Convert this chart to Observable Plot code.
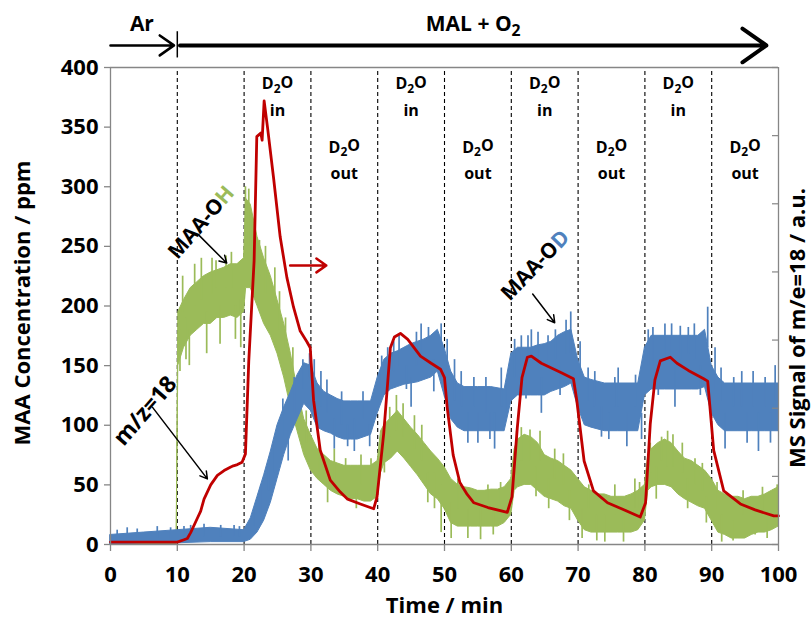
<!DOCTYPE html>
<html>
<head>
<meta charset="utf-8">
<script src="https://cdn.jsdelivr.net/npm/d3@7"></script>
<script src="https://cdn.jsdelivr.net/npm/@observablehq/plot@0.6"></script>
<style>
  html, body { margin: 0; padding: 0; background: #fff; }
  #chart svg { display: block; }
</style>
</head>
<body>
<div id="chart"></div>
<script>
// ---------- DATA ----------
const xTicks = [0, 10, 20, 30, 40, 50, 60, 70, 80, 90, 100];
const yTicks = [0, 50, 100, 150, 200, 250, 300, 350, 400];
const msTicks = [0, 1, 2, 3, 4, 5, 6, 7];   // unlabelled right axis (a.u.)
const msMax = 7;
const switchTimes = [10, 20, 30, 40, 50, 60, 70, 80, 90];
const phaseMid = [25, 35, 45, 55, 65, 75, 85, 95];
const phaseName = ["in", "out", "in", "out", "in", "out", "in", "out"];

// MAA-OH (green): noise envelope
const ohT  = [0, 9.9, 10.15, 11, 12, 13, 14, 15, 16, 17, 18, 19, 20, 20.3, 21, 22, 23, 24, 25, 26, 27, 28, 29, 30, 31, 32, 33, 34, 35, 36, 37, 38, 39, 40, 40.5, 41, 42, 43, 44, 45, 46, 47, 48, 49, 50, 51, 52, 53, 54, 55, 56, 57, 58, 59, 60, 60.5, 61, 62, 63, 64, 65, 66, 67, 68, 69, 70, 71, 72, 73, 74, 75, 76, 77, 78, 79, 80, 80.5, 81, 82, 83, 84, 85, 86, 87, 88, 89, 90, 91, 92, 93, 94, 95, 96, 97, 98, 99, 100];
const ohLo = [0, 0, 150, 165, 175, 180, 185, 185, 190, 190, 192, 190, 195, 215, 215, 200, 185, 175, 160, 140, 115, 95, 75, 62, 55, 50, 45, 42, 40, 38, 38, 36, 36, 40, 60, 68, 72, 78, 72, 65, 58, 50, 42, 38, 30, 18, 15, 15, 15, 15, 15, 15, 15, 18, 25, 45, 48, 50, 50, 45, 40, 38, 36, 32, 30, 20, 12, 10, 10, 10, 10, 10, 10, 10, 12, 20, 45, 48, 50, 50, 48, 42, 38, 35, 32, 30, 20, 10, 8, 5, 5, 5, 8, 10, 10, 12, 15];
const ohHi = [2, 2, 195, 205, 215, 220, 225, 228, 230, 232, 235, 235, 240, 290, 285, 258, 240, 225, 205, 185, 160, 130, 105, 92, 80, 75, 70, 68, 66, 66, 66, 66, 66, 70, 95, 100, 106, 112, 105, 98, 92, 85, 78, 72, 65, 55, 50, 48, 47, 45, 45, 46, 46, 48, 55, 80, 88, 92, 90, 85, 75, 72, 70, 66, 62, 55, 48, 45, 42, 42, 40, 40, 40, 42, 45, 50, 75, 80, 85, 88, 85, 78, 72, 70, 66, 62, 55, 45, 42, 40, 40, 38, 40, 40, 42, 45, 48];
// isolated spikes of MAA-OH: time, from, to
const ohSpikeT    = [10.4, 10.8, 11.3, 11.8, 12.6, 13.6, 14.4, 15.2, 15.8, 16.4, 17.3, 18.1, 18.7, 19.5, 20.2, 20.7, 21.3, 22.3, 23.2, 24.6, 25.3, 26.2, 27.3, 28.5, 29.3, 31.2, 32.5, 33.5, 35.2, 36.8, 37.5, 39, 41, 41.8, 42.8, 43.8, 45.5, 46.6, 47.5, 48.5, 49.5, 51, 52, 53.5, 55.4, 56.5, 57.3, 58.4, 60.8, 61.5, 62.8, 63.7, 64.3, 65.6, 66.5, 67.8, 68.7, 70.6, 71.6, 72.8, 74, 75.5, 76.8, 78.5, 79.2, 80.8, 81.7, 82.5, 83.4, 84.2, 85.6, 86.4, 87.5, 88.6, 89.2, 90.8, 91.5, 93.2, 94.7, 96.5, 97.6, 98.3, 99.8];
const ohSpikeFrom = [180, 195, 190, 180, 200, 205, 195, 210, 215, 200, 215, 215, 200, 205, 250, 250, 240, 225, 210, 200, 180, 165, 135, 110, 85, 60, 55, 55, 50, 45, 50, 45, 80, 90, 95, 90, 80, 70, 60, 60, 50, 35, 30, 30, 30, 30, 30, 30, 60, 70, 70, 65, 70, 55, 55, 50, 45, 30, 30, 25, 25, 25, 25, 30, 30, 60, 65, 70, 65, 65, 60, 55, 50, 45, 40, 30, 25, 20, 25, 25, 25, 25, 30];
const ohSpikeTo   = [145, 225, 155, 150, 235, 240, 160, 240, 238, 168, 242, 245, 172, 165, 300, 298, 268, 255, 250, 232, 212, 190, 165, 140, 112, 88, 35, 80, 72, 30, 75, 72, 60, 115, 125, 118, 108, 100, 35, 30, 10, 5, 55, 5, 4, 50, 8, 52, 95, 98, 96, 40, 95, 30, 80, 76, 20, 5, 50, 3, 2, 50, 2, 55, 52, 85, 38, 90, 95, 92, 85, 30, 72, 68, 18, 52, 2, 3, 45, 8, 48, 5, 50];

// MAA-OD (blue): noise envelope
const odT  = [0, 5, 10, 15, 20, 21, 22, 23, 24, 25, 26, 27, 28, 29, 30, 31, 32, 33, 34, 35, 36, 37, 38, 39, 40, 41, 42, 43, 44, 45, 46, 47, 48, 49, 50, 51, 52, 53, 55, 57, 59, 60, 61, 62, 63, 64, 65, 66, 67, 68, 69, 70, 71, 72, 74, 76, 78, 79, 80, 81, 83, 85, 87, 88, 89, 90, 91, 92, 94, 96, 98, 100];
const odLo = [0, 1, 1, 2, 2, 4, 10, 20, 35, 55, 75, 92, 105, 118, 112, 98, 95, 93, 90, 88, 88, 88, 90, 92, 110, 125, 130, 132, 134, 135, 136, 138, 140, 145, 125, 105, 98, 95, 95, 95, 95, 120, 125, 125, 125, 125, 125, 128, 130, 132, 135, 115, 100, 98, 95, 95, 95, 95, 125, 130, 130, 130, 130, 130, 132, 110, 100, 95, 95, 95, 95, 95];
const odHi = [8, 10, 12, 14, 12, 22, 40, 58, 78, 100, 115, 128, 142, 152, 150, 135, 128, 125, 122, 120, 120, 120, 120, 120, 140, 155, 160, 162, 165, 168, 170, 172, 175, 180, 165, 145, 135, 132, 132, 132, 130, 160, 165, 165, 165, 167, 168, 170, 175, 178, 180, 155, 140, 138, 135, 135, 135, 135, 165, 175, 175, 175, 175, 175, 180, 150, 140, 135, 135, 135, 135, 135];
const odSpikeT    = [1, 2.5, 4, 7, 9, 11, 12, 14, 16.5, 18.5, 19.3, 21.5, 22.5, 23.7, 24.5, 25.8, 26.6, 27.5, 28.8, 29.8, 30.5, 31.5, 32.4, 33.5, 34.6, 35.5, 36.5, 37.8, 38.8, 40.6, 41.5, 42.4, 43.2, 44.3, 45, 45.8, 46.5, 47.6, 48.4, 49.5, 50.4, 51.5, 52.5, 53.5, 54.4, 55, 56.2, 56.8, 57.5, 58.5, 59.2, 60.5, 61.5, 62.2, 62.5, 63, 64, 64.5, 65.5, 66.6, 67.3, 68.2, 68.9, 70.3, 71.5, 72.5, 73.5, 74.6, 75.5, 76, 77.3, 78.6, 79.5, 80.5, 81.2, 82, 83, 84, 84.5, 85.3, 86.5, 87.4, 88.3, 89.4, 90.5, 91.4, 92, 93.3, 94.5, 95.3, 96.2, 97, 98, 98.8, 99.5];
const odSpikeFrom = [4, 5, 5, 5, 5, 6, 6, 6, 6, 6, 6, 15, 25, 45, 60, 90, 95, 110, 130, 140, 120, 115, 110, 105, 100, 100, 105, 105, 100, 130, 140, 145, 150, 150, 140, 150, 160, 160, 155, 165, 140, 120, 115, 110, 115, 110, 110, 110, 110, 115, 110, 140, 145, 145, 150, 150, 150, 140, 150, 155, 150, 160, 160, 140, 120, 115, 115, 110, 115, 115, 110, 115, 110, 150, 150, 150, 155, 155, 150, 155, 160, 155, 150, 165, 130, 120, 110, 115, 115, 110, 115, 110, 115, 110, 120];
const odSpikeTo   = [12, 14, 13, 15, 14, 15, 16, 17, 16, 16, 15, 30, 50, 70, 85, 122, 70, 140, 155, 160, 155, 145, 138, 80, 128, 82, 78, 128, 82, 158, 165, 170, 175, 130, 115, 178, 185, 182, 128, 185, 172, 155, 145, 85, 140, 85, 140, 88, 80, 148, 135, 172, 175, 122, 175, 180, 178, 110, 175, 180, 125, 188, 195, 170, 148, 145, 90, 88, 140, 148, 82, 142, 88, 180, 182, 125, 185, 185, 115, 183, 182, 185, 125, 199, 165, 148, 80, 140, 145, 85, 145, 78, 140, 85, 150];

// m/z=18 (red), expressed on the left-axis scale
const h2oT = [0, 5, 10, 11, 11.5, 12, 13, 13.5, 14, 15, 16, 17, 18, 18.4, 19, 19.7, 20.2, 20.7, 21.5, 21.9, 22.5, 22.7, 23.0, 23.5, 24.4, 25.4, 26.4, 27.4, 28.4, 29.4, 29.9, 30.4, 31.4, 32.9, 34.4, 35.5, 37.4, 39.4, 39.9, 40.9, 41.9, 42.5, 43.4, 44.5, 46.4, 48, 49.4, 50.0, 50.4, 51.3, 52.3, 53.4, 54.4, 56.5, 59.4, 60.1, 60.9, 61.6, 62.4, 63.0, 64.5, 66, 67.5, 69.3, 69.8, 70.9, 72.3, 74.4, 76.5, 79.3, 80.1, 80.8, 81.5, 82.3, 83.8, 84.8, 86.5, 88.8, 89.4, 90.3, 91.8, 94.3, 96.5, 99.3, 100];
const h2oV = [2, 2, 2, 4, 5, 10, 22, 28, 38, 50, 58, 62, 65, 66, 67, 69, 76, 154, 238, 342, 345, 339, 372, 350, 308, 258, 224, 199, 179, 170, 165, 121, 79, 54, 44, 38, 34, 30, 40, 93, 165, 174, 177, 172, 158, 152, 147, 140, 115, 75, 52, 42, 35, 31, 27, 40, 98, 140, 157, 158, 152, 148, 144, 139, 121, 70, 45, 35, 30, 23, 35, 101, 138, 154, 157, 152, 146, 139, 137, 79, 45, 34, 29, 24, 24];

// ---------- BUILD ----------
const green = "#9BBB59", blue = "#4F81BD", red = "#C00000", axisGray = "#868686";
const oh = ohT.map((t, i) => ({t, lo: ohLo[i], hi: ohHi[i]}));
const od = odT.map((t, i) => ({t, lo: odLo[i], hi: odHi[i]}));
const ohSp = ohSpikeT.map((t, i) => ({t, a: ohSpikeFrom[i], b: ohSpikeTo[i]}));
const odSp = odSpikeT.map((t, i) => ({t, a: odSpikeFrom[i], b: odSpikeTo[i]}));
const h2o = h2oT.map((t, i) => ({t, v: h2oV[i]}));
const phases = phaseMid.map((t, i) => ({t, name: phaseName[i]}));
const msToY = v => v * 400 / msMax;
const pxPerMin = (812 - 110 - 34) / 100;

const font = "'Open Sans', 'DejaVu Sans', sans-serif";

const chart = Plot.plot({
  width: 812,
  height: 619,
  marginLeft: 110,
  marginRight: 34,
  marginTop: 67,
  marginBottom: 75,
  style: {fontFamily: font, fontWeight: "bold", fontSize: "22px", color: "black", background: "white", overflow: "visible"},
  x: {domain: [0, 100], ticks: xTicks, tickSize: 7, tickPadding: 15, tickFormat: d => d, label: null},
  y: {domain: [0, 400], ticks: yTicks, tickSize: 6, tickPadding: 6, tickFormat: d => d, label: null},
  marks: [
    // phase dashed lines
    Plot.ruleX(switchTimes, {y1: 0, y2: 400, stroke: "black", strokeWidth: 1.1, strokeDasharray: "4,3"}),
    // data
    Plot.areaY(oh, {x: "t", y1: "lo", y2: "hi", fill: green, stroke: green, strokeWidth: 1, curve: "linear"}),
    Plot.ruleX(ohSp, {x: "t", y1: "a", y2: "b", stroke: green, strokeWidth: 1.7}),
    Plot.areaY(od, {x: "t", y1: "lo", y2: "hi", fill: blue, stroke: blue, strokeWidth: 1, curve: "linear"}),
    Plot.ruleX(odSp, {x: "t", y1: "a", y2: "b", stroke: blue, strokeWidth: 1.7}),
    Plot.line(h2o, {x: "t", y: "v", stroke: red, strokeWidth: 2.8, curve: "linear"}),
    // frame / axes lines
    Plot.ruleY([0, 400], {x1: 0, x2: 100, stroke: axisGray, strokeWidth: 1.3}),
    Plot.ruleX([0, 100], {y1: 0, y2: 400, stroke: axisGray, strokeWidth: 1.3}),
    Plot.ruleY(msTicks, {y: msToY, x1: 100 - 6 / pxPerMin, x2: 100, stroke: axisGray, strokeWidth: 1.2}),
    // axis titles
    Plot.text(["MAA Concentration / ppm"], {frameAnchor: "left", textAnchor: "middle", rotate: -90, dx: -88, dy: -3, fontSize: 22}),
    Plot.text(["MS Signal of m/e=18 / a.u."], {frameAnchor: "right", textAnchor: "middle", rotate: -90, dx: 19, dy: 22, fontSize: 22}),
    Plot.text(["Time / min"], {frameAnchor: "bottom", dy: 68, fontSize: 22}),
    // phase labels
    Plot.text(phases, {x: "t", y: d => d.name === "in" ? 386 : 333, text: () => "D₂O", fontSize: 16}),
    Plot.text(phases, {x: "t", y: d => d.name === "in" ? 364 : 311, text: "name", fontSize: 16}),
    // top gas arrows
    Plot.arrow([{a: 0, b: 9.5}], {x1: "a", x2: "b", y1: 418.5, y2: 418.5, stroke: "black", strokeWidth: 2.6, headLength: 10, headAngle: 70}),
    Plot.ruleX([10], {y1: 408, y2: 430, stroke: "black", strokeWidth: 1.5}),
    Plot.arrow([{a: 10.4, b: 98.2}], {x1: "a", x2: "b", y1: 418.5, y2: 418.5, stroke: "black", strokeWidth: 4, headLength: 11, headAngle: 70}),
    Plot.text(["Ar"], {x: 4.7, y: 436, fontSize: 21}),
    Plot.text(["MAL + O₂"], {x: 54.3, y: 436, fontSize: 21}),
    // annotations
    Plot.text(["MAA-OH"], {x: 13.6, y: 270, rotate: -49, fontSize: 21}),
    Plot.arrow([{a: 13.3, b: 17.4, c: 259, d: 236}], {x1: "a", x2: "b", y1: "c", y2: "d", stroke: "black", strokeWidth: 1.5, headLength: 8}),
    Plot.text(["m/z=18"], {x: 5.2, y: 112, rotate: -49, fontSize: 23}),
    Plot.arrow([{a: 6.3, b: 14.5, c: 115, d: 55}], {x1: "a", x2: "b", y1: "c", y2: "d", stroke: "black", strokeWidth: 1.5, headLength: 8}),
    Plot.text(["MAA-OD"], {x: 63.6, y: 234, rotate: -46, fontSize: 21}),
    Plot.arrow([{a: 63.2, b: 66.5, c: 210, d: 186}], {x1: "a", x2: "b", y1: "c", y2: "d", stroke: "black", strokeWidth: 1.5, headLength: 8}),
    Plot.arrow([{a: 26.9, b: 32.3}], {x1: "a", x2: "b", y1: 234, y2: 234, stroke: red, strokeWidth: 2.6, headLength: 10, headAngle: 70})
  ]
});

document.getElementById("chart").appendChild(chart);

// grey tick lines on the axes
d3.select(chart).selectAll("g[aria-label^='x-axis'] line, g[aria-label^='y-axis'] line, g[aria-label$='tick'] path, g[aria-label^='x-axis'] path, g[aria-label^='y-axis'] path")
  .attr("stroke", axisGray).attr("stroke-width", 1.3);

// subscripts and coloured letters
d3.select(chart).selectAll("text").each(function() {
  const el = d3.select(this);
  if (this.querySelector("tspan")) return;
  const s = this.textContent;
  if (s.includes("₂")) {
    const [before, after] = s.split("₂");
    el.text(null);
    el.append("tspan").text(before);
    el.append("tspan").attr("dy", "0.3em").attr("font-size", "0.75em").text("2");
    el.append("tspan").attr("dy", "-0.3em").text(after);
  } else if (s === "MAA-OH" || s === "MAA-OD") {
    el.text(null);
    el.append("tspan").text("MAA-O");
    el.append("tspan").attr("fill", s === "MAA-OH" ? green : blue).text(s.slice(-1));
  }
});
</script>
</body>
</html>
